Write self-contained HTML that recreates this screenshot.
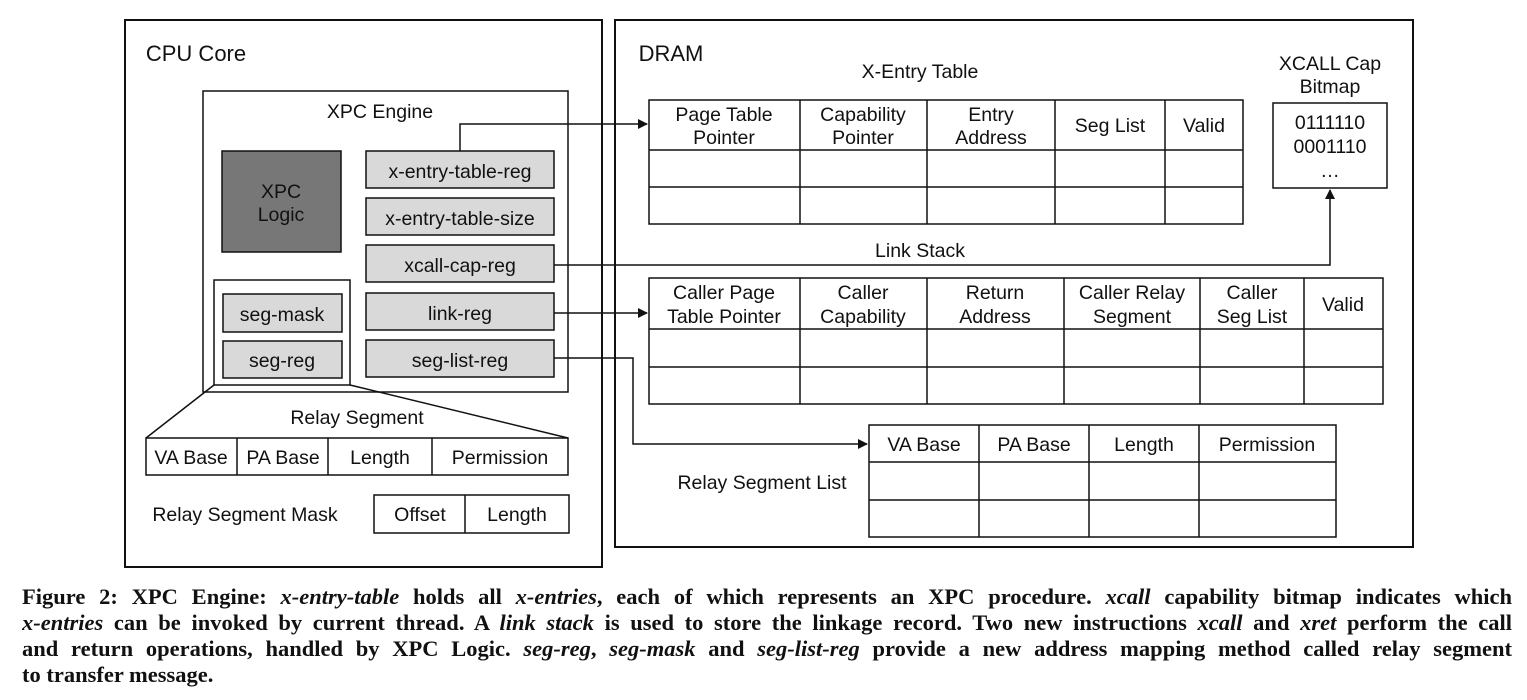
<!DOCTYPE html>
<html><head><meta charset="utf-8"><style>
body{margin:0;background:#fff;width:1527px;height:700px;overflow:hidden;position:relative}
svg{position:absolute;left:0;top:0}
svg text{font-family:"Liberation Sans",sans-serif;font-size:19.5px;fill:#111;text-anchor:middle}
.cap{position:absolute;left:22px;top:584px;width:1490px;font-family:"Liberation Serif",serif;font-weight:bold;font-size:22.5px;line-height:26px;color:#111}
.cap div{text-align:justify;text-align-last:justify;white-space:nowrap;overflow:hidden}
.cap div.l{text-align-last:left}
</style></head><body>
<svg width="1527" height="580" viewBox="0 0 1527 580">
<defs><marker id="a" markerWidth="10" markerHeight="10" refX="9" refY="5" orient="auto" markerUnits="userSpaceOnUse"><path d="M0,0 L10,5 L0,10 z" fill="#111"/></marker></defs>
<g fill="none" stroke="#111" stroke-width="1.5">
<rect x="125" y="20" width="477" height="547" stroke-width="2"/>
<rect x="615" y="20" width="798" height="527" stroke-width="2"/>
<rect x="203" y="91" width="365" height="301"/>
<rect x="222" y="151" width="119" height="101" fill="#777"/>
<g fill="#d9d9d9">
<rect x="366" y="151" width="188" height="37"/>
<rect x="366" y="198" width="188" height="37"/>
<rect x="366" y="245" width="188" height="37"/>
<rect x="366" y="293" width="188" height="37"/>
<rect x="366" y="340" width="188" height="37"/>
<rect x="223" y="294" width="119" height="38"/>
<rect x="223" y="341" width="119" height="37"/>
</g>
<rect x="214" y="280" width="136" height="105"/>
<line x1="214" y1="385" x2="146" y2="438"/>
<line x1="350" y1="385" x2="568" y2="438"/>
<rect x="146" y="438" width="422" height="37"/>
<path d="M237,438V475M328,438V475M432,438V475"/>
<rect x="374" y="495" width="195" height="38"/>
<path d="M465,495V533"/>
<rect x="649" y="100" width="594" height="124"/>
<path d="M649,150H1243M649,187H1243M800,100V224M927,100V224M1055,100V224M1165,100V224"/>
<rect x="1273" y="103" width="114" height="85"/>
<rect x="649" y="278" width="734" height="126"/>
<path d="M649,329H1383M649,367H1383M800,278V404M927,278V404M1064,278V404M1200,278V404M1304,278V404"/>
<rect x="869" y="425" width="467" height="112"/>
<path d="M869,462H1336M869,500H1336M979,425V537M1089,425V537M1199,425V537"/>
<path d="M460,151V124H647" marker-end="url(#a)"/>
<path d="M554,313H647" marker-end="url(#a)"/>
<path d="M554,265H1330V190" marker-end="url(#a)"/>
<path d="M554,358H633V444H867" marker-end="url(#a)"/>
</g>
<text x="196" y="61" style="font-size:22px">CPU Core</text>
<text x="671" y="61" style="font-size:22px">DRAM</text>
<text x="380" y="118">XPC Engine</text>
<text x="281" y="198">XPC</text>
<text x="281" y="221">Logic</text>
<text x="460" y="178">x-entry-table-reg</text>
<text x="460" y="225">x-entry-table-size</text>
<text x="460" y="272">xcall-cap-reg</text>
<text x="460" y="320">link-reg</text>
<text x="460" y="367">seg-list-reg</text>
<text x="282" y="321">seg-mask</text>
<text x="282" y="367">seg-reg</text>
<text x="357" y="424">Relay Segment</text>
<text x="191" y="464">VA Base</text>
<text x="283" y="464">PA Base</text>
<text x="380" y="464">Length</text>
<text x="500" y="464">Permission</text>
<text x="245" y="521">Relay Segment Mask</text>
<text x="420" y="521">Offset</text>
<text x="517" y="521">Length</text>
<text x="920" y="78">X-Entry Table</text>
<text x="1330" y="70">XCALL Cap</text>
<text x="1330" y="93">Bitmap</text>
<text x="1330" y="129">0111110</text>
<text x="1330" y="153">0001110</text>
<text x="1330" y="177">…</text>
<text x="724" y="121">Page Table</text>
<text x="724" y="144">Pointer</text>
<text x="863" y="121">Capability</text>
<text x="863" y="144">Pointer</text>
<text x="991" y="121">Entry</text>
<text x="991" y="144">Address</text>
<text x="1110" y="132">Seg List</text>
<text x="1204" y="132">Valid</text>
<text x="920" y="257">Link Stack</text>
<text x="724" y="299">Caller Page</text>
<text x="724" y="323">Table Pointer</text>
<text x="863" y="299">Caller</text>
<text x="863" y="323">Capability</text>
<text x="995" y="299">Return</text>
<text x="995" y="323">Address</text>
<text x="1132" y="299">Caller Relay</text>
<text x="1132" y="323">Segment</text>
<text x="1252" y="299">Caller</text>
<text x="1252" y="323">Seg List</text>
<text x="1343" y="311">Valid</text>
<text x="924" y="451">VA Base</text>
<text x="1034" y="451">PA Base</text>
<text x="1144" y="451">Length</text>
<text x="1267" y="451">Permission</text>
<text x="762" y="489">Relay Segment List</text>
</svg>
<div class="cap">
<div>Figure 2: XPC Engine: <i>x-entry-table</i> holds all <i>x-entries</i>, each of which represents an XPC procedure. <i>xcall</i> capability bitmap indicates which</div>
<div><i>x-entries</i> can be invoked by current thread. A <i>link stack</i> is used to store the linkage record. Two new instructions <i>xcall</i> and <i>xret</i> perform the call</div>
<div>and return operations, handled by XPC Logic. <i>seg-reg</i>, <i>seg-mask</i> and <i>seg-list-reg</i> provide a new address mapping method called relay segment</div>
<div class="l">to transfer message.</div>
</div>
</body></html>
